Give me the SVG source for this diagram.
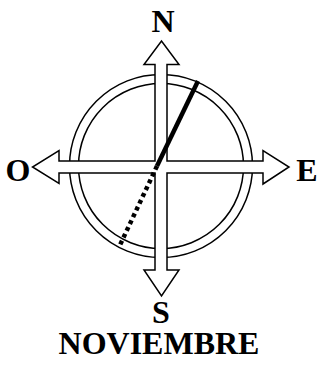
<svg xmlns="http://www.w3.org/2000/svg" width="325" height="366" viewBox="0 0 325 366">
<style>
.ring{fill:none;stroke:#000;stroke-width:1.5}
.arrow{fill:#fff;stroke:#000;stroke-width:1.5;stroke-linejoin:miter}
.lbl{font-family:"Liberation Serif","Times New Roman",serif;font-weight:bold;font-size:32px;fill:#000;text-anchor:middle}
</style>
<rect width="325" height="366" fill="#fff"/>
<g id="rings">
<circle class="ring" cx="161" cy="166" r="91.5"/>
<circle class="ring" cx="161" cy="166" r="82.5"/>
</g>
<g id="arrows">
<path class="arrow" d="M155,161 L155,64.5 L144,64.5 L161.5,41 L179,64.5 L167,64.5 L167,161 L263,161 L263,150.5 L289,167 L263,184 L263,173 L167,173 L167,270 L179,270 L161.5,296 L144,270 L155,270 L155,173 L59,173 L59,183.5 L32.5,167 L59,150.5 L59,161 Z"/>
</g>
<g id="needle">
<line x1="198" y1="81" x2="157" y2="166" stroke="#000" stroke-width="4.5"/>
<line x1="157" y1="166" x2="120" y2="245" stroke="#000" stroke-width="4.5" stroke-dasharray="4,3.5"/>
</g>
<g id="labels">
<text class="lbl" x="163" y="32">N</text>
<text class="lbl" x="18" y="181">O</text>
<text class="lbl" x="307" y="181">E</text>
<text class="lbl" x="161" y="323">S</text>
<text class="lbl" x="159" y="354">NOVIEMBRE</text>
</g>
</svg>
